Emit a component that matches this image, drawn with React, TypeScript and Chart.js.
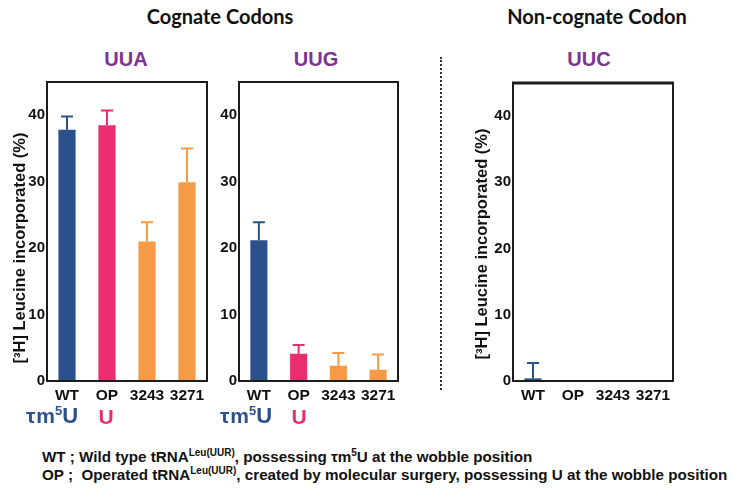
import React, { useEffect, useRef } from "react";
import { Chart, registerables } from "chart.js";

Chart.register(...registerables);

const categories = ["WT", "OP", "3243", "3271"];
const uuaValues = [37.8, 38.5, 21.0, 29.9];
const uuaErrors = [2.0, 2.2, 2.9, 5.1];
const uugValues = [21.2, 4.1, 2.3, 1.7];
const uugErrors = [2.7, 1.3, 1.9, 2.3];
const uucValues = [0.4, 0, 0, 0];
const uucErrors = [2.3, 0, 0, 0];
const yTicks = [0, 10, 20, 30, 40];
const yMax = 45;

const barColors = ["#2c5089", "#ea2d70", "#f69a46", "#f69a46"];
const PURPLE = "#7b3394";
const FONT = "Arial, Helvetica, 'Liberation Sans', sans-serif";
const Y_TITLE = "[³H] Leucine incorporated (%)";

type PanelProps = {
  left: number;
  top: number;
  width: number;
  height: number;
  yWidth: number;
  padTop: number;
  values: number[];
  errors: number[];
  titleX?: number;
  titleY?: number;
  topLine?: number;
};

function Panel(p: PanelProps) {
  const ref = useRef<HTMLCanvasElement>(null);
  useEffect(() => {
    const canvas = ref.current!;
    const errorPlugin = {
      id: "errs",
      afterDatasetsDraw(chart: any) {
        const ctx = chart.ctx;
        const meta = chart.getDatasetMeta(0);
        const y = chart.scales.y;
        ctx.save();
        p.values.forEach((v, i) => {
          const e = p.errors[i];
          if (!e) return;
          const x = meta.data[i].x;
          const y0 = y.getPixelForValue(v);
          const y1 = y.getPixelForValue(v + e);
          ctx.strokeStyle = barColors[i];
          ctx.lineWidth = 2;
          ctx.beginPath();
          ctx.moveTo(x, y0);
          ctx.lineTo(x, y1);
          ctx.moveTo(x - 6, y1);
          ctx.lineTo(x + 6, y1);
          ctx.stroke();
        });
        const a = chart.chartArea;
        ctx.strokeStyle = "#1c1c1c";
        ctx.lineWidth = 2;
        ctx.strokeRect(a.left, a.top, a.right - a.left, a.bottom - a.top);
        if (p.topLine) {
          ctx.lineWidth = p.topLine;
          ctx.beginPath();
          ctx.moveTo(a.left - 1, a.top);
          ctx.lineTo(a.right + 1, a.top);
          ctx.stroke();
        }
        if (p.titleX !== undefined) {
          ctx.translate(p.titleX, p.titleY!);
          ctx.rotate(-Math.PI / 2);
          ctx.fillStyle = "#111";
          ctx.font = `bold 16.5px ${FONT}`;
          ctx.textAlign = "center";
          ctx.textBaseline = "middle";
          ctx.fillText(Y_TITLE, 0, 0);
        }
        ctx.restore();
      },
    };
    const chart = new Chart(canvas, {
      type: "bar",
      data: {
        labels: categories,
        datasets: [
          {
            data: p.values,
            backgroundColor: barColors,
            borderWidth: 0,
            barPercentage: 0.43,
            categoryPercentage: 1,
          },
        ],
      },
      options: {
        responsive: false,
        animation: false,
        layout: { padding: { top: p.padTop, right: 8, left: 0, bottom: 0 } },
        plugins: { legend: { display: false }, tooltip: { enabled: false } },
        scales: {
          x: {
            grid: { display: false, drawTicks: false },
            border: { display: false },
            ticks: {
              color: "#111",
              font: { family: FONT, size: 15.5, weight: "bold" },
              padding: 5,
              maxRotation: 0,
            },
            afterFit: (s: any) => {
              s.height = 29;
            },
          },
          y: {
            min: 0,
            max: yMax,
            grid: { display: false, drawTicks: false },
            border: { display: false },
            afterBuildTicks: (s: any) => {
              s.ticks = yTicks.map((v) => ({ value: v }));
            },
            ticks: {
              color: "#111",
              font: { family: FONT, size: 15, weight: "bold" },
              padding: 2,
            },
            afterFit: (s: any) => {
              s.width = p.yWidth;
            },
          },
        },
      },
      plugins: [errorPlugin],
    });
    return () => chart.destroy();
  }, []);
  return (
    <canvas
      ref={ref}
      width={p.width}
      height={p.height}
      style={{ position: "absolute", left: p.left, top: p.top, width: p.width, height: p.height }}
    />
  );
}

const center = (x: number, y: number): React.CSSProperties => ({
  position: "absolute",
  left: x,
  top: y,
  transform: "translate(-50%, -50%)",
  whiteSpace: "nowrap",
  lineHeight: 1,
});

function TauM5U({ x, y }: { x: number; y: number }) {
  return (
    <div style={{ ...center(x, y), color: "#2c5089", fontFamily: FONT, fontWeight: "bold", fontSize: 21 }}>
      <span>τ</span>
      <span style={{ marginLeft: 1 }}>m</span>
      <span style={{ fontSize: 13, verticalAlign: "8px" }}>5</span>
      <span style={{ fontSize: 22 }}>U</span>
    </div>
  );
}

export default function App() {
  const foot: React.CSSProperties = {
    position: "absolute",
    left: 42,
    fontFamily: FONT,
    fontWeight: "bold",
    fontSize: 15.2,
    color: "#111",
    whiteSpace: "nowrap",
    lineHeight: 1,
  };
  const sup: React.CSSProperties = { fontSize: 10, verticalAlign: "6px" };
  return (
    <div style={{ position: "absolute", left: 0, top: 0, width: 738, height: 489, background: "#fff", overflow: "hidden" }}>
      <div style={{ ...center(220, 16), fontFamily: "Lato, sans-serif", fontWeight: "bold", fontSize: 20, color: "#111" }}>
        Cognate Codons
      </div>
      <div style={{ ...center(597, 16), fontFamily: "Lato, sans-serif", fontWeight: "bold", fontSize: 20, color: "#111" }}>
        Non-cognate Codon
      </div>
      <div style={{ ...center(126, 59), fontFamily: FONT, fontWeight: "bold", fontSize: 20, color: PURPLE }}>UUA</div>
      <div style={{ ...center(316, 59), fontFamily: FONT, fontWeight: "bold", fontSize: 20, color: PURPLE }}>UUG</div>
      <div style={{ ...center(589, 59), fontFamily: FONT, fontWeight: "bold", fontSize: 20, color: PURPLE }}>UUC</div>
      <div
        style={{
          position: "absolute",
          left: 440,
          top: 57,
          height: 333,
          borderLeft: "2px dotted #333",
        }}
      />
      <Panel left={0} top={70} width={215} height={340} yWidth={47} padTop={12}
        values={uuaValues} errors={uuaErrors} titleX={20} titleY={178} />
      <Panel left={210} top={70} width={196} height={340} yWidth={29} padTop={12}
        values={uugValues} errors={uugErrors} />
      <Panel left={460} top={70} width={221} height={340} yWidth={53} padTop={13}
        values={uucValues} errors={uucErrors} titleX={22} titleY={174} topLine={3} />
      <TauM5U x={52} y={415} />
      <div style={{ ...center(106, 416), color: "#ea2d70", fontFamily: FONT, fontWeight: "bold", fontSize: 21 }}>U</div>
      <TauM5U x={246} y={415} />
      <div style={{ ...center(299, 416), color: "#ea2d70", fontFamily: FONT, fontWeight: "bold", fontSize: 21 }}>U</div>
      <div style={{ ...foot, top: 448 }}>
        WT ; Wild type tRNA<span style={sup}>Leu(UUR)</span>, possessing τm<span style={sup}>5</span>U at the wobble position
      </div>
      <div style={{ ...foot, top: 466 }}>
        OP ;&nbsp; Operated tRNA<span style={sup}>Leu(UUR)</span>, created by molecular surgery, possessing U at the wobble position
      </div>
    </div>
  );
}
